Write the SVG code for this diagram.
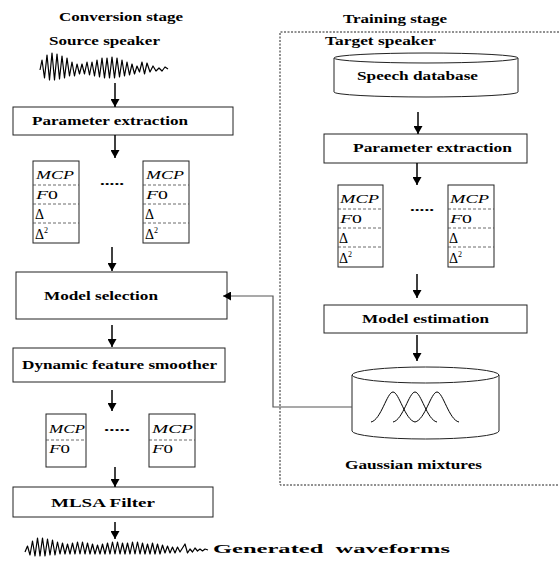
<svg xmlns="http://www.w3.org/2000/svg" width="559" height="566" viewBox="0 0 559 566">
<defs>
<style>
.t{font-family:"Liberation Serif","Times New Roman",serif;font-weight:bold;font-size:13px;fill:#000;}
.m{font-family:"Liberation Serif","Times New Roman",serif;font-style:italic;font-size:13px;fill:#000;}
.d{font-family:"Liberation Serif","Times New Roman",serif;font-size:14px;fill:#000;}
.box{fill:#fff;stroke:#222;stroke-width:1;}
.div{stroke:#444;stroke-width:0.8;stroke-dasharray:3,2;fill:none;}
.arr{stroke:#000;stroke-width:1.5;fill:none;marker-end:url(#ah);}
.wave{fill:none;stroke:#000;stroke-width:1.2;stroke-linejoin:round;}
.frame{fill:none;stroke:#222;stroke-width:1;stroke-dasharray:2,1.5;}
</style>
<marker id="ah" markerUnits="userSpaceOnUse" markerWidth="9" markerHeight="9" refX="8" refY="4.5" orient="auto">
<path d="M0,0 L8,4.5 L0,9 z" fill="#000"/>
</marker>
</defs>
<rect width="559" height="566" fill="#fff"/>

<g id="training-frame">
<path class="frame" d="M559,32 L280,32 L280,485 L559,485"/>
</g>

<g id="labels">
<text class="t" x="59" y="21" textLength="124" lengthAdjust="spacingAndGlyphs">Conversion stage</text>
<text class="t" x="49" y="45" textLength="111" lengthAdjust="spacingAndGlyphs">Source speaker</text>
<text class="t" x="343" y="23" textLength="104" lengthAdjust="spacingAndGlyphs">Training stage</text>
<text class="t" x="325" y="45" textLength="111" lengthAdjust="spacingAndGlyphs">Target speaker</text>
</g>

<g id="source-wave">
<polyline class="wave" points="40,70 42,60 44.5,78 47,55 49.5,80 52,53 54.5,80 57,54 59.5,79 62,56 64.5,78 67,58 69.5,76 72,62 74.5,76 77,64 79.5,74 82,64 84.5,74 87,62 89.5,75 92,62 94.5,76 97,60 99.5,77 102,58 104.5,78 107,58 109.5,78 112,57 114.5,78 117,58 119.5,77 122,60 124.5,76 127,62 129.5,75 132,64 134.5,74 137,66 139.5,72 142,62 144.5,74 147,63 150,72 153,66 156,71 159,68 162,71 165,67 168,69"/>
</g>

<g id="param-extraction-left">
<rect class="box" x="13" y="107" width="220" height="28"/>
<text class="t" x="32" y="125" textLength="156" lengthAdjust="spacingAndGlyphs">Parameter extraction</text>
</g>

<g id="feat-left-1">
<rect class="box" x="33" y="161" width="46" height="82"/>
<path class="div" d="M33,185 H79 M33,204 H79 M33,223 H79"/>
<text class="m" x="36" y="179" textLength="38" lengthAdjust="spacingAndGlyphs">MCP</text>
<text class="m" x="36" y="199" textLength="22" lengthAdjust="spacingAndGlyphs">F<tspan font-style="normal">0</tspan></text>
<text class="d" x="35" y="219">Δ</text>
<text class="d" x="35" y="239">Δ<tspan font-size="8" dy="-6">2</tspan></text>
</g>
<text class="t" x="100" y="185" textLength="24" lengthAdjust="spacingAndGlyphs">.....</text>
<g id="feat-left-2">
<rect class="box" x="143" y="161" width="46" height="82"/>
<path class="div" d="M143,185 H189 M143,204 H189 M143,223 H189"/>
<text class="m" x="146" y="179" textLength="38" lengthAdjust="spacingAndGlyphs">MCP</text>
<text class="m" x="146" y="199" textLength="22" lengthAdjust="spacingAndGlyphs">F<tspan font-style="normal">0</tspan></text>
<text class="d" x="145" y="219">Δ</text>
<text class="d" x="145" y="239">Δ<tspan font-size="8" dy="-6">2</tspan></text>
</g>

<g id="model-selection">
<rect class="box" x="16" y="272" width="211" height="47"/>
<text class="t" x="44" y="300" textLength="114" lengthAdjust="spacingAndGlyphs">Model selection</text>
</g>

<g id="smoother">
<rect class="box" x="13" y="348" width="212" height="34"/>
<text class="t" x="22" y="369" textLength="195" lengthAdjust="spacingAndGlyphs">Dynamic feature smoother</text>
</g>

<g id="feat-bottom-1">
<rect class="box" x="46" y="414" width="40" height="53"/>
<path class="div" d="M46,440 H86"/>
<text class="m" x="49" y="433" textLength="36" lengthAdjust="spacingAndGlyphs">MCP</text>
<text class="m" x="49" y="453" textLength="21" lengthAdjust="spacingAndGlyphs">F<tspan font-style="normal">0</tspan></text>
</g>
<text class="t" x="104" y="431" textLength="26" lengthAdjust="spacingAndGlyphs">.....</text>
<g id="feat-bottom-2">
<rect class="box" x="149" y="414" width="46" height="53"/>
<path class="div" d="M149,440 H195"/>
<text class="m" x="152" y="433" textLength="41" lengthAdjust="spacingAndGlyphs">MCP</text>
<text class="m" x="152" y="453" textLength="21" lengthAdjust="spacingAndGlyphs">F<tspan font-style="normal">0</tspan></text>
</g>

<g id="mlsa-filter">
<rect class="box" x="13" y="487" width="200" height="30"/>
<text class="t" x="51" y="507" textLength="104" lengthAdjust="spacingAndGlyphs">MLSA Filter</text>
</g>

<g id="generated-wave">
<polyline class="wave" points="25,552 27.5,546 30,555 32.5,541 35,556 37.5,538 40,556 42.5,538 45,556 47.5,539 50,555 52.5,540 55,555 57.5,542 60,554 62.5,543 65,554 67.5,544 70,554 72.5,543 75,554 77.5,542 80,554 82.5,542 85,554 87.5,543 90,554 92.5,544 95,554 97.5,545 100,554 102.5,544 105,554 107.5,543 110,554 112.5,542 115,554 117.5,542 120,554 122.5,543 125,554 127.5,543 130,554 132.5,542 135,554 137.5,542 140,554 142.5,543 145,554 147.5,544 150,554 152.5,543 155,554 157.5,544 160,554 162.5,545 165,553 167.5,546 170,553 172.5,547 175,553 177.5,547 180,552 182.5,548 185,544 187.5,553 190,549 192.5,552 195,548 197.5,551 200,549 202.5,551 205,549 208,550"/>
<text class="t" x="213" y="553" textLength="237" lengthAdjust="spacingAndGlyphs" style="white-space:pre">Generated  waveforms</text>
</g>

<g id="speech-database">
<path class="box" d="M334,58 V92 A92,5 0 0 0 518,92 V58"/>
<ellipse class="box" cx="426" cy="58" rx="92" ry="5"/>
<text class="t" x="357" y="80" textLength="121" lengthAdjust="spacingAndGlyphs">Speech database</text>
</g>

<g id="param-extraction-right">
<rect class="box" x="324" y="134" width="203" height="29"/>
<text class="t" x="353" y="152" textLength="159" lengthAdjust="spacingAndGlyphs">Parameter extraction</text>
</g>

<g id="feat-right-1">
<rect class="box" x="338" y="185" width="45" height="82"/>
<path class="div" d="M338,209 H383 M338,228 H383 M338,247 H383"/>
<text class="m" x="340" y="203" textLength="39" lengthAdjust="spacingAndGlyphs">MCP</text>
<text class="m" x="340" y="223" textLength="22" lengthAdjust="spacingAndGlyphs">F<tspan font-style="normal">0</tspan></text>
<text class="d" x="339" y="243">Δ</text>
<text class="d" x="339" y="263">Δ<tspan font-size="8" dy="-6">2</tspan></text>
</g>
<text class="t" x="410" y="211" textLength="24" lengthAdjust="spacingAndGlyphs">.....</text>
<g id="feat-right-2">
<rect class="box" x="448" y="185" width="46" height="82"/>
<path class="div" d="M448,209 H494 M448,228 H494 M448,247 H494"/>
<text class="m" x="450" y="203" textLength="39" lengthAdjust="spacingAndGlyphs">MCP</text>
<text class="m" x="450" y="223" textLength="22" lengthAdjust="spacingAndGlyphs">F<tspan font-style="normal">0</tspan></text>
<text class="d" x="449" y="243">Δ</text>
<text class="d" x="449" y="263">Δ<tspan font-size="8" dy="-6">2</tspan></text>
</g>

<g id="model-estimation">
<rect class="box" x="324" y="305" width="203" height="28"/>
<text class="t" x="362" y="323" textLength="127" lengthAdjust="spacingAndGlyphs">Model estimation</text>
</g>

<g id="gaussian-mixtures">
<path class="box" d="M352,375 V431 A73.5,8 0 0 0 499,431 V375"/>
<ellipse class="box" cx="425.5" cy="375" rx="73.5" ry="8"/>
<path fill="none" stroke="#000" stroke-width="1" d="M371,422 C381,420 387,392 393,392 C399,392 405,420 415,422 M393,422 C403,420 409,392 415,392 C421,392 427,420 437,422 M415,422 C425,420 431,392 437,392 C443,392 449,420 459,422"/>
<text class="t" x="345" y="469" textLength="137" lengthAdjust="spacingAndGlyphs">Gaussian mixtures</text>
</g>

<g id="connectors">
<line class="arr" x1="115" y1="83" x2="115" y2="107"/>
<line class="arr" x1="115" y1="135" x2="115" y2="158"/>
<line class="arr" x1="112" y1="247" x2="112" y2="271"/>
<line class="arr" x1="112" y1="325" x2="112" y2="347"/>
<line class="arr" x1="112" y1="390" x2="112" y2="411"/>
<line class="arr" x1="115" y1="467" x2="115" y2="487"/>
<line class="arr" x1="115" y1="522" x2="115" y2="539"/>
<line class="arr" x1="418" y1="112" x2="418" y2="134"/>
<line class="arr" x1="417" y1="163" x2="417" y2="185"/>
<line class="arr" x1="417" y1="274" x2="417" y2="298"/>
<line class="arr" x1="417" y1="335" x2="417" y2="361"/>
<path d="M352,407 H273 V296 H223" fill="none" stroke="#555" stroke-width="1.2" marker-end="url(#ah)"/>
</g>
</svg>
